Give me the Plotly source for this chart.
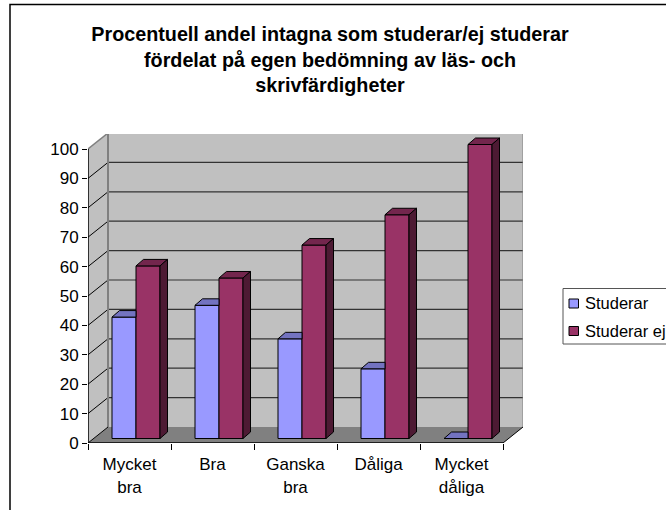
import plotly.graph_objects as go

categories = ["Mycket<br>bra", "Bra", "Ganska<br>bra", "Dåliga", "Mycket<br>dåliga"]
studerar = [41.3, 45.3, 33.9, 23.7, 0]
studerar_ej = [58.7, 54.6, 65.8, 76.1, 100]
y_ticks = list(range(0, 101, 10))
series_names = ["Studerar", "Studerar ej"]

W, H = 666, 510
L, R, T, B = 88, 523, 134, 443
PX_X = 83.0      # pixels per category
PX_Y = 2.94      # pixels per value unit
DX = 20 / PX_X   # depth of the chart box, in axis units
DY = 16 / PX_Y
BDX = 7.5 / PX_X  # depth of one bar
BDY = 6.5 / PX_Y
BASE = 4.5 / PX_Y  # bars stand inside the floor
BAR_W = 24 / PX_X
LEFT_OFFSET = 24 / PX_X

BLUE, BLUE_TOP = "#9999FF", "#7373C0"
RED, RED_TOP, RED_SIDE = "#993366", "#73264D", "#4D1A33"
WALL, FLOOR, EDGE, GRID = "#C0C0C0", "#808080", "#808080", "#333333"

n = len(categories)
xmax = n + DX
ymax = (B - T) / PX_Y


def poly(pts, fill, line="rgba(0,0,0,0)", width=0, layer="below"):
    path = "M" + "L".join(f"{x},{y}" for x, y in pts) + "Z"
    return dict(type="path", path=path, xref="x", yref="y", fillcolor=fill,
                line=dict(color=line, width=width), layer=layer)


def seg(x0, y0, x1, y1, color, width=1):
    return dict(type="line", x0=x0, y0=y0, x1=x1, y1=y1, xref="x", yref="y",
                line=dict(color=color, width=width), layer="below")


top_v = y_ticks[-1]
shapes = [
    poly([(0, 0), (DX, DY), (DX, top_v + DY), (0, top_v)], WALL),
    poly([(DX, DY), (n + DX, DY), (n + DX, top_v + DY), (DX, top_v + DY)], WALL),
    poly([(0, 0), (n, 0), (n + DX, DY), (DX, DY)], FLOOR),
]
for v in y_ticks[1:-1]:
    shapes.append(seg(0, v, DX, v + DY, "#000000"))
    shapes.append(seg(DX, v + DY, n + DX, v + DY, GRID, 1.2))
shapes += [
    seg(DX, DY, DX, top_v + DY, EDGE, 2),
    seg(DX, top_v + DY, n + DX, top_v + DY, EDGE, 1.5),
    seg(n + DX, DY, n + DX, top_v + DY, EDGE, 1),
    seg(0, top_v, DX, top_v + DY, EDGE, 1.5),
    seg(n, 0, n + DX, DY, "#000000", 1),
    seg(0, 0, DX, DY, "#000000", 1),
    seg(0, 0, 0, top_v, "#000000", 1.5),
    seg(0, 0, n, 0, "#000000", 1.5),
]
# Outer frame: only its left and top edges fall inside the picture
px = lambda x: (x - L) / (R - L)
py = lambda y: (B - y) / (B - T)
shapes.append(dict(type="rect", xref="paper", yref="paper", x0=px(10), x1=px(700),
                   y0=py(540), y1=py(4.5), line=dict(color="#000000", width=1.5),
                   fillcolor="rgba(0,0,0,0)", layer="below"))
# Hand-laid legend (small swatch right beside its text, as in the reference)
shapes.append(dict(type="rect", xref="paper", yref="paper", x0=px(563), x1=px(700),
                   y0=py(344), y1=py(288.5), line=dict(color="#555555", width=1),
                   fillcolor="#FFFFFF", layer="above"))
for name, color, cy in zip(series_names, [BLUE, RED], [303.5, 331]):
    shapes.append(dict(type="rect", xref="paper", yref="paper", x0=px(569), x1=px(578.5),
                       y0=py(cy + 4.5), y1=py(cy - 4.5),
                       line=dict(color="#000000", width=1), fillcolor=color, layer="above"))

fig = go.Figure()
cat_lefts = [i + LEFT_OFFSET for i in range(n)]
blue_x = [x + BAR_W / 2 for x in cat_lefts]
red_x = [x + BAR_W * 1.5 for x in cat_lefts]
fig.add_bar(x=blue_x, y=studerar, base=BASE, width=BAR_W, name=series_names[0],
            marker=dict(color=BLUE, line=dict(color="#000000", width=1)))
fig.add_bar(x=red_x, y=studerar_ej, base=BASE, width=BAR_W, name=series_names[1],
            marker=dict(color=RED, line=dict(color="#000000", width=1)))


def face(pts, fill):
    xs, ys = zip(*pts)
    fig.add_scatter(x=list(xs) + [xs[0]], y=list(ys) + [ys[0]], mode="lines", fill="toself",
                    fillcolor=fill, line=dict(color="#000000", width=1),
                    showlegend=False, hoverinfo="skip")


for i in range(n):
    x0 = cat_lefts[i]
    xm = x0 + BAR_W
    x1 = xm + BAR_W
    yb = BASE + studerar[i]
    yr = BASE + studerar_ej[i]
    face([(x0, yb), (xm, yb), (xm, yb + BDY), (x0 + BDX, yb + BDY)], BLUE_TOP)
    face([(xm, yr), (x1, yr), (x1 + BDX, yr + BDY), (xm + BDX, yr + BDY)], RED_TOP)
    face([(x1, BASE), (x1 + BDX, BASE + BDY), (x1 + BDX, yr + BDY), (x1, yr)], RED_SIDE)

# Second x axis only carries the boundary ticks between categories
fig.add_scatter(x=[0, n], y=[0, 0], xaxis="x2", mode="lines", line=dict(color="rgba(0,0,0,0)"),
                showlegend=False, hoverinfo="skip")

font = dict(family="Liberation Sans, Arial, sans-serif", color="#000000")
fig.update_layout(
    width=W, height=H, autosize=False, showlegend=False, barmode="overlay",
    paper_bgcolor="#FFFFFF", plot_bgcolor="#FFFFFF",
    margin=dict(l=L, r=W - R, t=T, b=H - B, pad=0),
    font=dict(**font, size=17),
    title=dict(text="<b>Procentuell andel intagna som studerar/ej studerar<br>"
                    "fördelat på egen bedömning av läs- och<br>skrivfärdigheter</b>",
               x=330 / W, xanchor="center", y=1 - 41 / H, yanchor="top",
               font=dict(**font, size=19.75)),
    xaxis=dict(range=[0, xmax], tickmode="array", tickvals=[i + 0.5 for i in range(n)],
               ticktext=categories, ticks="outside", ticklen=6, tickcolor="rgba(0,0,0,0)",
               showline=False, showgrid=False, zeroline=False, fixedrange=True, automargin=False),
    xaxis2=dict(range=[0, xmax], overlaying="x", anchor="y", side="bottom", tickmode="array",
                tickvals=list(range(n + 1)), ticktext=[""] * (n + 1), ticks="outside", ticklen=6,
                tickcolor="#000000", showline=False, showgrid=False, zeroline=False, fixedrange=True,
                automargin=False),
    yaxis=dict(range=[0, ymax], tickmode="array", tickvals=y_ticks, ticks="outside", ticklen=5,
               tickcolor="#000000", showline=False, showgrid=False, zeroline=False, fixedrange=True,
               automargin=False),
    shapes=shapes,
    annotations=[dict(xref="paper", yref="paper", x=px(585), y=py(cy), text=name, showarrow=False,
                      xanchor="left", yanchor="middle", xshift=-2, font=dict(**font, size=16.5))
                 for name, cy in zip(series_names, [303, 331])],
)
fig.write_html("out.html", config=dict(displayModeBar=False),
               post_script="document.body.style.margin='0';")
